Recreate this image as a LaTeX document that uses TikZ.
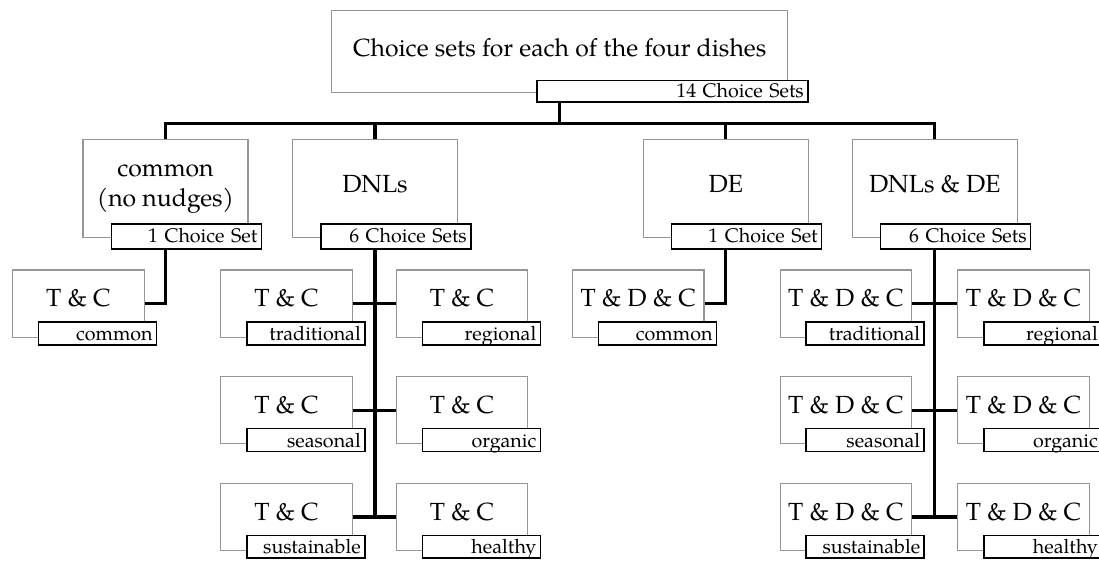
\documentclass[tikz,border=0pt]{standalone}
\usepackage{fontspec}
\setmainfont{TeX Gyre Pagella}
\usepackage{tikz}
\definecolor{boxgray}{RGB}{150,150,150}

\begin{document}
\begin{tikzpicture}[x=0.5pt,y=-0.5pt]
	\tikzset{box/.style = {shape=rectangle, draw=boxgray, line width=0.6pt, inner sep=0pt, align=center, font=\fontsize{12.4}{15}\selectfont}}
	\tikzset{group/.style = {box, minimum width=82.5pt, minimum height=49.2pt}}
	\tikzset{single/.style = {text height=8.6pt, text depth=4.4pt}}
	\tikzset{dish/.style = {box, minimum width=65.75pt, minimum height=33.65pt, text height=8.6pt, text depth=5.5pt}}
	\tikzset{tag/.style = {shape=rectangle, draw, fill=white, line width=0.75pt, anchor=south east, inner xsep=2pt, inner ysep=0pt, align=right, font=\fontsize{9.85}{11.8}\selectfont}}
	\tikzset{grouptag/.style = {tag, text width=71pt, text height=9pt, text depth=3.35pt}}
	\tikzset{dishtag/.style = {tag, text width=55pt, text height=9.2pt, text depth=2.15pt}}
	\tikzset{link/.style = {line width=1.6pt}}
	\useasboundingbox (0,0) rectangle (1099,561);
	% boxes
	\node[box, minimum width=228pt, minimum height=41pt, text height=8.6pt, text depth=3.6pt] (dishes) at (559.7,51.7) {Choice sets for each of the four dishes};
	\node[group, text height=23.6pt, text depth=5.1pt] (common) at (165.5,188.5) {common\\(no nudges)};
	\node[group, single] (dnl) at (375,188.5) {DNLs};
	\node[group, single] (de) at (725.8,188.5) {DE};
	\node[group, single] (dnlde) at (934.8,188.5) {DNLs \& DE};
	\node[dish] (cc) at (78.4,303.6) {T \& C};
	\node[dish] (d1) at (286.5,303.6) {T \& C};
	\node[dish] (d2) at (462,303.6) {T \& C};
	\node[dish] (d3) at (286.5,410.2) {T \& C};
	\node[dish] (d4) at (462,410.2) {T \& C};
	\node[dish] (d5) at (286.5,517) {T \& C};
	\node[dish] (d6) at (462,517) {T \& C};
	\node[dish] (dec) at (638.2,303.6) {T \& D \& C};
	\node[dish] (e1) at (845.9,303.6) {T \& D \& C};
	\node[dish] (e2) at (1023.5,303.6) {T \& D \& C};
	\node[dish] (e3) at (845.9,410.2) {T \& D \& C};
	\node[dish] (e4) at (1023.5,410.2) {T \& D \& C};
	\node[dish] (e5) at (845.9,517) {T \& D \& C};
	\node[dish] (e6) at (1023.5,517) {T \& D \& C};
	% links
	\coordinate (bus) at (0,123.3);
	\draw[link] (dishes.south) -- (dishes.south |- bus);
	\draw[link] (common.north) |- (dnlde.north |- bus) -- (dnlde.north);
	\draw[link] (dnl.north) -- (dnl.north |- bus);
	\draw[link] (de.north) -- (de.north |- bus);
	\draw[link] (common.south) |- (cc.east);
	\draw[link] (de.south) |- (dec.east);
	\draw[link] (dnl.south) -- (dnl.south |- d5.east);
	\draw[link] (d1.east) -- (d2.west);
	\draw[link] (d3.east) -- (d4.west);
	\draw[link] (d5.east) -- (d6.west);
	\draw[link] (dnlde.south) -- (dnlde.south |- e5.east);
	\draw[link] (e1.east) -- (e2.west);
	\draw[link] (e3.east) -- (e4.west);
	\draw[link] (e5.east) -- (e6.west);
	% tags
	\node[tag, text width=131.5pt, text height=8.3pt, text depth=2.35pt] (dishestag) at ([shift={(20.3,9.3)}]dishes.south east) {14 Choice Sets};
	\node[grouptag] (commontag) at ([shift={(13.5,11.3)}]common.south east) {1 Choice Set};
	\node[grouptag] (dnltag) at ([shift={(13.5,11.3)}]dnl.south east) {6 Choice Sets};
	\node[grouptag] (detag) at ([shift={(13.5,11.3)}]de.south east) {1 Choice Set};
	\node[grouptag] (dnldetag) at ([shift={(13.5,11.3)}]dnlde.south east) {6 Choice Sets};
	\node[dishtag] (cctag) at ([shift={(12.7,7.7)}]cc.south east) {common};
	\node[dishtag] (d1tag) at ([shift={(12.7,7.7)}]d1.south east) {traditional};
	\node[dishtag] (d2tag) at ([shift={(12.7,7.7)}]d2.south east) {regional};
	\node[dishtag] (d3tag) at ([shift={(12.7,7.7)}]d3.south east) {seasonal};
	\node[dishtag] (d4tag) at ([shift={(12.7,7.7)}]d4.south east) {organic};
	\node[dishtag] (d5tag) at ([shift={(12.7,7.7)}]d5.south east) {sustainable};
	\node[dishtag] (d6tag) at ([shift={(12.7,7.7)}]d6.south east) {healthy};
	\node[dishtag] (dectag) at ([shift={(12.7,7.7)}]dec.south east) {common};
	\node[dishtag] (e1tag) at ([shift={(12.7,7.7)}]e1.south east) {traditional};
	\node[dishtag] (e2tag) at ([shift={(12.7,7.7)}]e2.south east) {regional};
	\node[dishtag] (e3tag) at ([shift={(12.7,7.7)}]e3.south east) {seasonal};
	\node[dishtag] (e4tag) at ([shift={(12.7,7.7)}]e4.south east) {organic};
	\node[dishtag] (e5tag) at ([shift={(12.7,7.7)}]e5.south east) {sustainable};
	\node[dishtag] (e6tag) at ([shift={(12.7,7.7)}]e6.south east) {healthy};
\end{tikzpicture}
\end{document}
